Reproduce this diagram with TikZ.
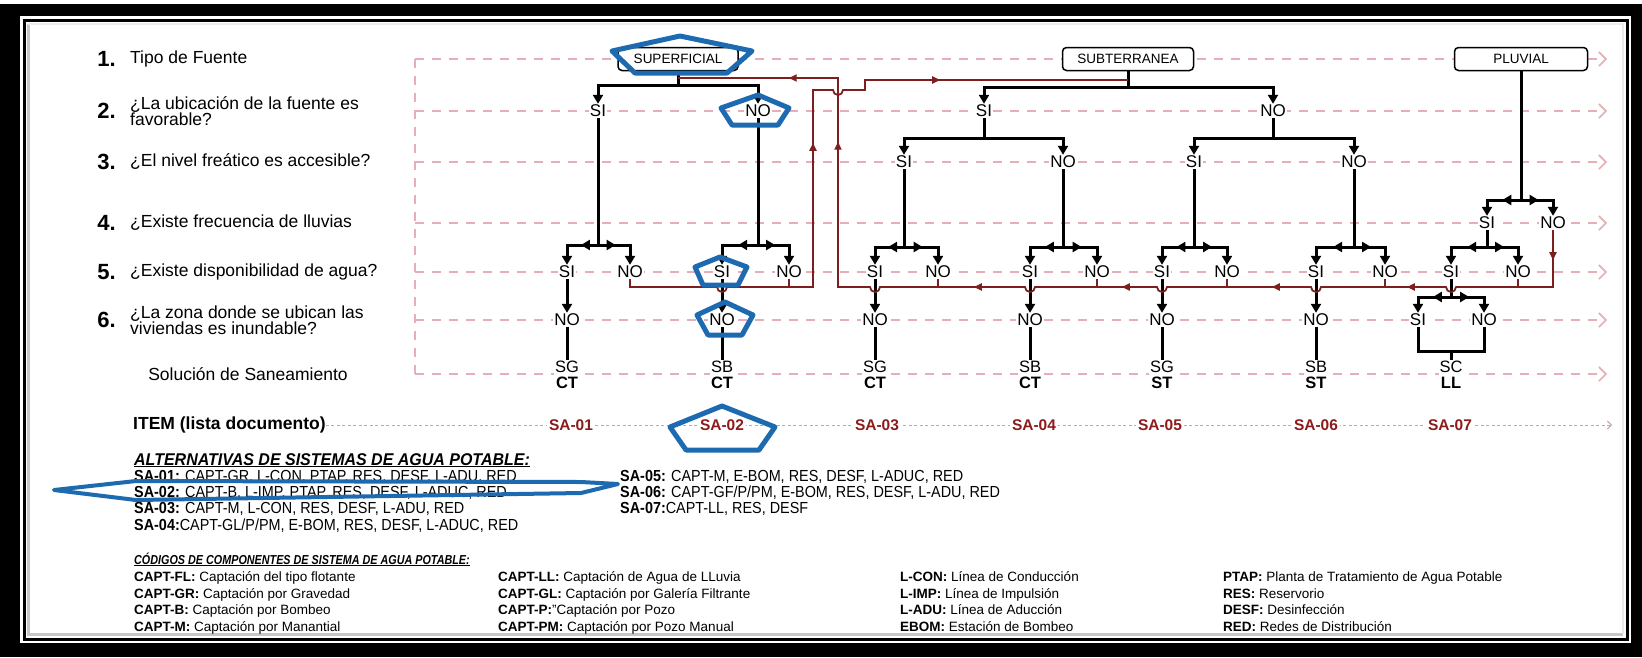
\documentclass[tikz,border=0pt]{standalone}
\usepackage{fontspec}
\setmainfont{Liberation Sans}
\newfontfamily\altfont[FakeStretch=0.9]{Liberation Sans}
\newfontfamily\altheadfont[FakeStretch=0.94]{Liberation Sans}
\newfontfamily\headfont[FakeStretch=0.83]{Liberation Sans}
\usetikzlibrary{arrows.meta,calc,decorations.markings}
\definecolor{GU}{HTML}{E6AEB5}
\definecolor{IT}{HTML}{C4A6A8}
\definecolor{RD}{HTML}{7D1F1F}
\definecolor{SA}{HTML}{8E1B1B}
\definecolor{HL}{HTML}{1E6AB0}

\begin{document}
\begin{tikzpicture}[x=1pt,y=-1pt,
    guide/.style={GU,line width=1.6pt,dash pattern=on 9pt off 8pt},
    ln/.style={line width=3pt,black},
    tip/.style={arrows={-Triangle[length=9pt,width=10pt]}},
    tips2/.style={arrows={Triangle[length=9pt,width=10pt]-Triangle[length=9pt,width=10pt]}},
    rl/.style={RD,line width=1.8pt},
    lbl/.style={fill=white,inner sep=1pt,font=\fontsize{17}{16}\selectfont},
    sol/.style={fill=white,inner sep=1pt,align=center,font=\fontsize{16.5}{16}\selectfont},
    box/.style={draw,fill=white,rounded corners=4pt,line width=1.5pt,minimum height=23pt,font=\fontsize{13.5}{13}\selectfont},
    num/.style={anchor=east,inner sep=0pt,font=\bfseries\fontsize{22}{22}\selectfont},
    qtxt/.style={anchor=west,inner sep=0pt,align=left,font=\fontsize{17.5}{16}\selectfont},
    said/.style={fill=white,inner sep=2pt,text=SA,font=\bfseries\fontsize{15.5}{15}\selectfont},
    alt/.style={anchor=base west,inner sep=0pt,font=\altfont\fontsize{16}{16}\selectfont},
    code/.style={anchor=base west,inner sep=0pt,font=\fontsize{13.5}{14}\selectfont},
    hl/.style={HL,line width=5pt,line join=round}]
\useasboundingbox (0,0) rectangle (1642,657);
\fill[black] (0,4) rectangle (1642,657);
\fill[white] (20,16) rectangle (1631,643);
\draw[line width=3pt] (24,20) rectangle (1627,639);
\draw[black!22,line width=3pt] (28,24) -- (28,634) -- (1623,634);
\draw[black!8,line width=2pt] (28,24) -- (1623,24) -- (1623,634);

\foreach \y in {59,111,162,223,272,320,374}
  \draw[guide,arrows={-Straight Barb[length=7pt,width=14pt]}] (415,\y) -- (1607,\y);
\draw[guide] (415,59) -- (415,374);

\foreach \y/\t [count=\i] in {59/Tipo de Fuente,111/{¿La ubicación de la fuente es\\favorable?},162/{¿El nivel freático es accesible?},223/{¿Existe frecuencia de lluvias},272/{¿Existe disponibilidad de agua?},320/{¿La zona donde se ubican las\\viviendas es inundable?}}{
  \node[num] (n\i) at (116,\y) {\i.};
  \node[qtxt] (q\i) at (130,\y) {\t};
}
\node[font=\fontsize{17.5}{18}\selectfont] (sol) at (248,374) {Solución de Saneamiento};
\node[anchor=west,inner sep=0pt,font=\bfseries\fontsize{17.5}{18}\selectfont] (item) at (133,425) {ITEM (lista documento)};
\coordinate (itemend) at (1612,425);
\draw[IT,line width=1pt,dash pattern=on 3pt off 2.5pt,arrows={-Straight Barb[length=4pt,width=8pt]}] (item) -- (itemend);

\node[box,minimum width=120pt] (sup) at (678,59) {SUPERFICIAL};
\node[box,minimum width=131pt] (sub) at (1128,59) {SUBTERRANEA};
\node[box,minimum width=133pt] (plu) at (1521,59) {PLUVIAL};

\foreach \n/\x/\t in {r2a/598/SI,r2b/758/NO,r2c/984/SI,r2d/1273/NO}
  \node[lbl] (\n) at (\x,111) {\t};
\foreach \n/\x/\t in {r3a/904/SI,r3b/1063/NO,r3c/1194/SI,r3d/1354/NO}
  \node[lbl] (\n) at (\x,162) {\t};
\foreach \n/\x/\t in {r4a/1487/SI,r4b/1553/NO}
  \node[lbl] (\n) at (\x,223) {\t};
\foreach \x/\t [count=\i] in {567/SI,630/NO,722/SI,789/NO,875/SI,938/NO,1030/SI,1097/NO,1162/SI,1227/NO,1316/SI,1385/NO,1451/SI,1518/NO}
  \node[lbl] (r5-\i) at (\x,272) {\t};
\foreach \x/\t [count=\i] in {567/NO,722/NO,875/NO,1030/NO,1162/NO,1316/NO,1418/SI,1484/NO}
  \node[lbl] (r6-\i) at (\x,320) {\t};
\foreach \x/\a/\b [count=\i] in {567/SG/CT,722/SB/CT,875/SG/CT,1030/SB/CT,1162/SG/ST,1316/SB/ST,1451/SC/LL}
  \node[sol] (s\i) at (\x,375) {\a\\\textbf{\b}};
\foreach \x [count=\i] in {571,722,877,1034,1160,1316,1450}
  \node[said] (sa\i) at (\x,425) {SA-0\i};

\foreach \p/\l/\r/\y in {sup/r2a/r2b/85,sub/r2c/r2d/87,r2c/r3a/r3b/138,r2d/r3c/r3d/138}{
  \draw[ln] (\p) -- (\p |- 0,\y);
  \draw[ln,tips2] (\l) |- (\p |- 0,\y) -| (\r);
}
\foreach \p/\l/\r/\y in {r2a/r5-1/r5-2/245,r2b/r5-3/r5-4/245,r3a/r5-5/r5-6/247,r3b/r5-7/r5-8/247,r3c/r5-9/r5-10/247,r3d/r5-11/r5-12/247,plu/r4a/r4b/200,r4a/r5-13/r5-14/247,r5-13/r6-7/r6-8/297}{
  \draw[ln] (\p) -- (\p |- 0,\y);
  \draw[ln,tips2] (\l) |- (\p |- 0,\y) -| (\r);
  \draw[ln,tip] (\p |- 0,\y) -- ($(\p |- 0,\y)!0.55!(\l |- 0,\y)$);
  \draw[ln,tip] (\p |- 0,\y) -- ($(\p |- 0,\y)!0.55!(\r |- 0,\y)$);
}
\foreach \i/\j in {1/1,3/2,5/3,7/4,9/5,11/6}
  \draw[ln,tip] (r5-\i) -- (r6-\j);
\foreach \i in {1,...,6}
  \draw[ln] (r6-\i) -- (s\i);
\coordinate (scj) at (s7 |- 0,351);
\draw[ln] (r6-7) |- (scj) -| (r6-8);
\draw[ln] (scj) -- (s7);

\foreach \n in {r5-4,r5-6,r5-8,r5-10,r5-12,r5-14}
  \draw[rl] (\n) -- (\n |- 0,287);
\draw[rl,postaction={decorate},decoration={markings,
    mark=at position 340.7pt with {\arrow{Triangle[length=8pt,width=7pt]}},
    mark=at position 536.4pt with {\arrow{Triangle[length=8pt,width=7pt]}}}]
  (r5-2) -- (r5-2 |- 0,287) -- (717,287) arc[start angle=180,end angle=360,radius=5pt]
  -- (813,287) -- (813,90) -- (833,90) arc[start angle=180,end angle=360,radius=5pt]
  -- (865,90) -- (865,80) -- (sub |- 0,80);
\draw[rl,postaction={decorate},decoration={markings,
    mark=at position 30pt with {\arrow{Triangle[length=8pt,width=7pt]}},
    mark=at position 208.7pt with {\arrow{Triangle[length=8pt,width=7pt]}},
    mark=at position 349.4pt with {\arrow{Triangle[length=8pt,width=7pt]}},
    mark=at position 505.1pt with {\arrow{Triangle[length=8pt,width=7pt]}},
    mark=at position 658.8pt with {\arrow{Triangle[length=8pt,width=7pt]}},
    mark=at position 945.5pt with {\arrow{Triangle[length=8pt,width=7pt]}},
    mark=at position 1058.5pt with {\arrow{Triangle[length=8pt,width=7pt]}}}]
  (r4b) -- (r4b |- 0,287) -- (1456,287) arc[start angle=0,end angle=-180,radius=5pt]
  -- (1321,287) arc[start angle=0,end angle=-180,radius=5pt]
  -- (1167,287) arc[start angle=0,end angle=-180,radius=5pt]
  -- (1035,287) arc[start angle=0,end angle=-180,radius=5pt]
  -- (880,287) arc[start angle=0,end angle=-180,radius=5pt]
  -- (838,287) -- (838,78) -- (sup |- 0,78);

\node[alt,font=\altheadfont\bfseries\itshape\fontsize{17}{17}\selectfont] (alth) at (134,465) {\underline{ALTERNATIVAS DE SISTEMAS DE AGUA POTABLE:}};
\foreach \y/\t [count=\i] in {481/{\textbf{SA-01:} CAPT-GR, L-CON, PTAP, RES, DESF, L-ADU, RED},497/{\textbf{SA-02:} CAPT-B, L-IMP, PTAP, RES, DESF, L-ADUC, RED},513/{\textbf{SA-03:} CAPT-M, L-CON, RES, DESF, L-ADU, RED},530/{\textbf{SA-04:}CAPT-GL/P/PM, E-BOM, RES, DESF, L-ADUC, RED}}
  \node[alt] (alta\i) at (134,\y) {\t};
\foreach \y/\t [count=\i] in {481/{\textbf{SA-05:} CAPT-M, E-BOM, RES, DESF, L-ADUC, RED},497/{\textbf{SA-06:} CAPT-GF/P/PM, E-BOM, RES, DESF, L-ADU, RED},513/{\textbf{SA-07:}CAPT-LL, RES, DESF}}
  \node[alt] (altb\i) at (620,\y) {\t};

\node[code,font=\headfont\bfseries\itshape\fontsize{13}{13}\selectfont] (codh) at (134,564) {\underline{CÓDIGOS DE COMPONENTES DE SISTEMA DE AGUA POTABLE:}};
\foreach \y/\t [count=\i] in {581/{\textbf{CAPT-FL:} Captación del tipo flotante},598/{\textbf{CAPT-GR:} Captación por Gravedad},614/{\textbf{CAPT-B:} Captación por Bombeo},631/{\textbf{CAPT-M:} Captación por Manantial}}
  \node[code] (coda\i) at (134,\y) {\t};
\foreach \y/\t [count=\i] in {581/{\textbf{CAPT-LL:} Captación de Agua de LLuvia},598/{\textbf{CAPT-GL:} Captación por Galería Filtrante},614/{\textbf{CAPT-P:}"Captación por Pozo},631/{\textbf{CAPT-PM:} Captación por Pozo Manual}}
  \node[code] (codb\i) at (498,\y) {\t};
\foreach \y/\t [count=\i] in {581/{\textbf{L-CON:} Línea de Conducción},598/{\textbf{L-IMP:} Línea de Impulsión},614/{\textbf{L-ADU:} Línea de Aducción},631/{\textbf{EBOM:} Estación de Bombeo}}
  \node[code] (codc\i) at (900,\y) {\t};
\foreach \y/\t [count=\i] in {581/{\textbf{PTAP:} Planta de Tratamiento de Agua Potable},598/{\textbf{RES:} Reservorio},614/{\textbf{DESF:} Desinfección},631/{\textbf{RED:} Redes de Distribución}}
  \node[code] (codd\i) at (1223,\y) {\t};

\draw[hl] (612,51) -- (680,36) -- (752,51) -- (727,73) -- (635,73) -- cycle;
\draw[hl] (721,108) -- (758,95) -- (789,108) -- (778,125) -- (732,125) -- cycle;
\draw[hl] (695,267) -- (720,257) -- (747,267) -- (738,285) -- (703,285) -- cycle;
\draw[hl] (697,315) -- (725,302) -- (753,315) -- (742,335) -- (708,335) -- cycle;
\draw[hl] (670,427) -- (722,406) -- (775,427) -- (759,450) -- (686,450) -- cycle;
\draw[hl,line width=4pt] (54,490) -- (136,481) -- (581,482) -- (618,484) -- (581,493) -- (136,500) -- cycle;
\end{tikzpicture}
\end{document}
